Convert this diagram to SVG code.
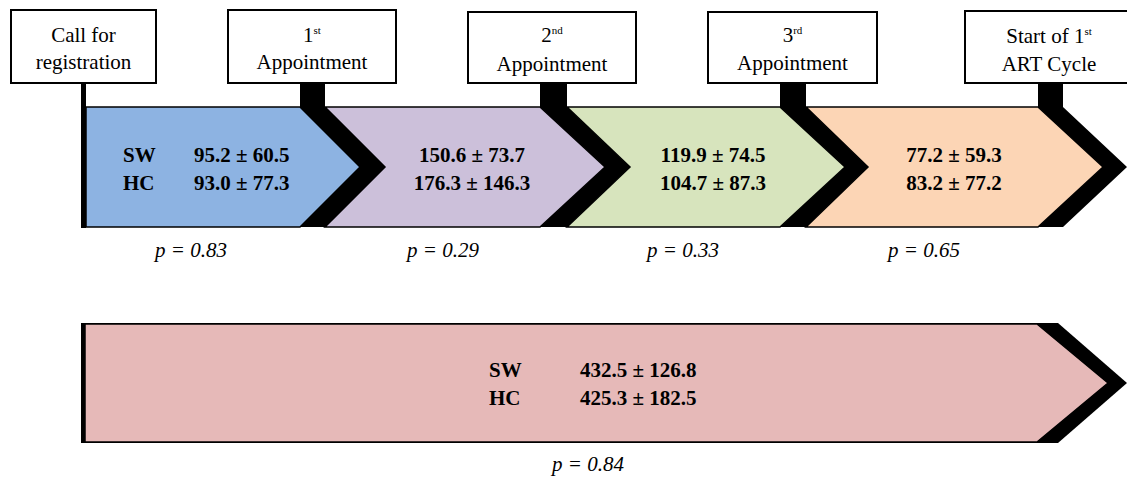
<svg xmlns="http://www.w3.org/2000/svg" width="1127" height="479" viewBox="0 0 1127 479">
<style>
text{font-family:'Liberation Serif','DejaVu Serif',serif}
.box{fill:#fff;stroke:#000;stroke-width:2}
.lbl{font-size:21px;fill:#000;text-anchor:middle}
.sup{font-size:11px}
.val{font-size:21px;font-weight:bold;fill:#000}
.mid{text-anchor:middle}
.p{font-size:21px;font-style:italic;fill:#000}
.seg{stroke:#000;stroke-width:1.5;stroke-linejoin:miter}
.band{fill:#000}
</style>
<rect width="1127" height="479" fill="#fff"/>
<g id="connectors">
  <rect x="81" y="83" width="5" height="145" fill="#000"/>
  <rect x="300" y="83" width="25" height="25" fill="#000"/>
  <rect x="540" y="83" width="27" height="25" fill="#000"/>
  <rect x="780" y="83" width="26" height="25" fill="#000"/>
  <rect x="1038" y="83" width="25" height="25" fill="#000"/>
  <polygon class="band" points="300,107 325,107 385,167 325,227 300,227 360,167"/>
  <polygon class="band" points="540,107 567,107 630,167 567,227 540,227 605,167"/>
  <polygon class="band" points="780,107 806,107 868,167 806,227 780,227 845,167"/>
  <polygon class="band" points="1038,107 1063,107 1127,167 1063,227 1038,227 1103,167"/>
  <polygon class="band" points="81,323 1058,323 1127,383 1058,443 81,443"/>
</g>
<g id="seg1">
  <polygon class="seg" fill="#8DB3E2" points="86,107 300,107 360,167 300,227 86,227"/>
  <text class="val" x="123" y="162">SW</text>
  <text class="val" x="194" y="162">95.2 ± 60.5</text>
  <text class="val" x="123" y="190">HC</text>
  <text class="val" x="194" y="190">93.0 ± 77.3</text>
</g>
<g id="seg2">
  <polygon class="seg" fill="#CCC0DA" points="325,107 540,107 605,167 540,227 325,227 385,167"/>
  <text class="val mid" x="472" y="162">150.6 ± 73.7</text>
  <text class="val mid" x="472" y="190">176.3 ± 146.3</text>
</g>
<g id="seg3">
  <polygon class="seg" fill="#D7E4BD" points="567,107 780,107 845,167 780,227 567,227 630,167"/>
  <text class="val mid" x="713" y="162">119.9 ± 74.5</text>
  <text class="val mid" x="713" y="190">104.7 ± 87.3</text>
</g>
<g id="seg4">
  <polygon class="seg" fill="#FCD5B5" points="806,107 1038,107 1103,167 1038,227 806,227 868,167"/>
  <text class="val mid" x="954" y="162">77.2 ± 59.3</text>
  <text class="val mid" x="954" y="190">83.2 ± 77.2</text>
</g>
<g id="total">
  <polygon class="seg" fill="#E6B9B8" points="85,324 1037,324 1108,383 1037,442 85,442"/>
  <text class="val" x="489" y="377">SW</text>
  <text class="val" x="580" y="377">432.5 ± 126.8</text>
  <text class="val" x="489" y="405">HC</text>
  <text class="val" x="580" y="405">425.3 ± 182.5</text>
</g>
<g id="box-call">
  <rect class="box" x="11" y="10" width="145" height="73"/>
  <text class="lbl" x="83.5" y="42">Call for</text>
  <text class="lbl" x="83.5" y="69">registration</text>
</g>
<g id="box-appt1">
  <rect class="box" x="228" y="10" width="168" height="73"/>
  <text class="lbl" x="312" y="42">1<tspan class="sup" dy="-8">st</tspan></text>
  <text class="lbl" x="312" y="69">Appointment</text>
</g>
<g id="box-appt2">
  <rect class="box" x="468" y="12" width="168" height="71"/>
  <text class="lbl" x="552" y="42">2<tspan class="sup" dy="-8">nd</tspan></text>
  <text class="lbl" x="552" y="71">Appointment</text>
</g>
<g id="box-appt3">
  <rect class="box" x="708" y="12" width="169" height="71"/>
  <text class="lbl" x="792.5" y="42">3<tspan class="sup" dy="-8">rd</tspan></text>
  <text class="lbl" x="792.5" y="70">Appointment</text>
</g>
<g id="box-art">
  <rect class="box" x="965" y="11" width="170" height="72"/>
  <text class="lbl" x="1049" y="43">Start of 1<tspan class="sup" dy="-8">st</tspan></text>
  <text class="lbl" x="1049" y="71">ART Cycle</text>
</g>
<g id="pvalues">
  <text class="p" x="155" y="257">p = 0.83</text>
  <text class="p" x="407" y="257">p = 0.29</text>
  <text class="p" x="647" y="257">p = 0.33</text>
  <text class="p" x="888" y="257">p = 0.65</text>
  <text class="p" x="552" y="471">p = 0.84</text>
</g>
</svg>
